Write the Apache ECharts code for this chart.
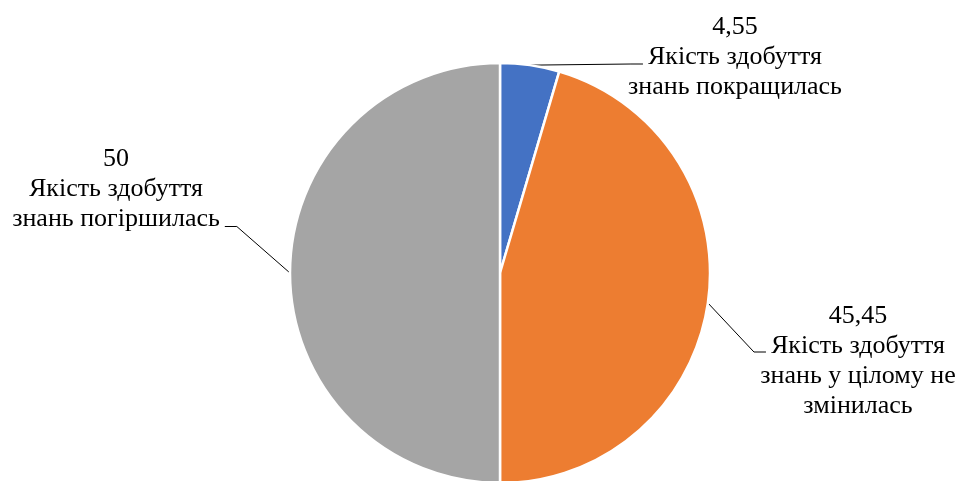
<!DOCTYPE html>
<html>
<head>
<meta charset="utf-8">
<script src="https://cdn.jsdelivr.net/npm/echarts@6/dist/echarts.min.js"></script>
<style>html,body{margin:0;padding:0;background:#fff}#chart{width:964px;height:481px}</style>
</head>
<body>
<div id="chart"></div>
<script>
const categories = [
  "Якість здобуття\nзнань покращилась",
  "Якість здобуття\nзнань у цілому не\nзмінилась",
  "Якість здобуття\nзнань погіршилась"
];
const values = [4.55, 45.45, 50];
const colors = ["#4472C4", "#ED7D31", "#A5A5A5"];

const FONT_SIZE = 26;
const FONT_FAMILY = '"Liberation Serif", "Times New Roman", serif';
const LINE_H = 30;
// label placement: centre of text block, side where leader attaches, which text line it attaches to, vertical offset
const labelPlace = [
  {x: 735, y: 57, side: 'left', line: 2, dy: 7},
  {x: 858, y: 361, side: 'left', line: 2, dy: 6},
  {x: 116, y: 189.5, side: 'right', line: 3, dy: 7}
];

const ctx = document.createElement('canvas').getContext('2d');
ctx.font = FONT_SIZE + 'px ' + FONT_FAMILY;
function fmt(v){ return String(v).replace('.', ','); }

const chart = echarts.init(document.getElementById('chart'));
chart.setOption({
  animation: false,
  series: [{
    type: 'pie',
    center: [500, 273],
    radius: 210,
    startAngle: 90,
    clockwise: true,
    avoidLabelOverlap: false,
    data: categories.map((n, i) => ({name: n, value: values[i], itemStyle: {color: colors[i]}})),
    itemStyle: {borderColor: '#fff', borderWidth: 2.5},
    label: {
      show: true,
      position: 'outside',
      formatter: p => fmt(p.value) + '\n' + p.name,
      color: '#000',
      fontSize: FONT_SIZE,
      fontFamily: FONT_FAMILY,
      lineHeight: LINE_H,
      align: 'center'
    },
    labelLine: {show: true, lineStyle: {color: '#000', width: 1}, length: 10, length2: 10},
    emphasis: {disabled: true},
    labelLayout: function (params) {
      const i = params.dataIndex;
      const pl = labelPlace[i];
      const lines = (fmt(values[i]) + '\n' + categories[i]).split('\n');
      const h = lines.length * LINE_H;
      const top = pl.y - h / 2;
      const lw = ctx.measureText(lines[pl.line - 1]).width;
      const ay = top + LINE_H * (pl.line - 0.5) + pl.dy;
      const ax = pl.side === 'left' ? pl.x - lw / 2 - 5 : pl.x + lw / 2 + 5;
      const ex = pl.side === 'left' ? ax - 12 : ax + 12;
      const start = params.labelLinePoints[0];
      return {
        x: pl.x,
        y: pl.y,
        align: 'center',
        verticalAlign: 'middle',
        labelLinePoints: [[start[0], start[1]], [ex, ay], [ax, ay]]
      };
    }
  }]
});
</script>
</body>
</html>
